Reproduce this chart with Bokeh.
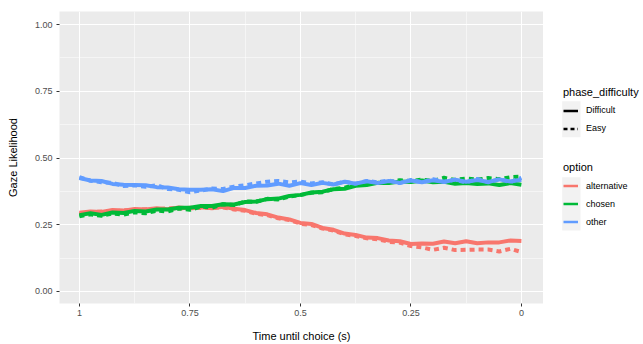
from bokeh.plotting import figure
from bokeh.layouts import row
from bokeh.models import Range1d, FixedTicker, Legend, LegendItem, ColumnDataSource
from bokeh.embed import file_html
from bokeh.resources import INLINE

time_s = [1.0, 0.975, 0.95, 0.925, 0.9, 0.875, 0.85, 0.825, 0.8, 0.775, 0.75, 0.725, 0.7, 0.675,
          0.65, 0.625, 0.6, 0.575, 0.55, 0.525, 0.5, 0.475, 0.45, 0.425, 0.4, 0.375, 0.35, 0.325,
          0.3, 0.275, 0.25, 0.225, 0.2, 0.175, 0.15, 0.125, 0.1, 0.075, 0.05, 0.025, 0.0]

alternative_difficult = [0.295, 0.300, 0.298, 0.305, 0.303, 0.309, 0.307, 0.312, 0.308, 0.315, 0.311,
                         0.316, 0.312, 0.317, 0.310, 0.305, 0.294, 0.289, 0.277, 0.270, 0.257, 0.253,
                         0.238, 0.231, 0.217, 0.212, 0.202, 0.200, 0.191, 0.188, 0.178, 0.180, 0.179,
                         0.187, 0.181, 0.188, 0.181, 0.184, 0.184, 0.191, 0.189]
alternative_easy = [0.290, 0.297, 0.300, 0.300, 0.304, 0.305, 0.308, 0.308, 0.312, 0.311, 0.314,
                    0.313, 0.315, 0.315, 0.307, 0.302, 0.291, 0.286, 0.274, 0.268, 0.254, 0.249,
                    0.236, 0.228, 0.214, 0.208, 0.199, 0.196, 0.186, 0.183, 0.170, 0.165, 0.156,
                    0.164, 0.155, 0.156, 0.157, 0.157, 0.150, 0.160, 0.148]
chosen_difficult = [0.286, 0.293, 0.287, 0.296, 0.294, 0.302, 0.300, 0.307, 0.307, 0.314, 0.314,
                    0.320, 0.320, 0.327, 0.326, 0.335, 0.337, 0.346, 0.348, 0.358, 0.362, 0.371,
                    0.374, 0.383, 0.385, 0.396, 0.399, 0.407, 0.406, 0.412, 0.410, 0.416, 0.409,
                    0.411, 0.404, 0.406, 0.403, 0.405, 0.399, 0.406, 0.400]
chosen_easy = [0.282, 0.289, 0.284, 0.292, 0.288, 0.297, 0.293, 0.303, 0.300, 0.311, 0.306,
               0.318, 0.314, 0.327, 0.324, 0.337, 0.336, 0.347, 0.345, 0.356, 0.361, 0.370,
               0.372, 0.384, 0.389, 0.399, 0.405, 0.410, 0.409, 0.417, 0.413, 0.419, 0.414,
               0.426, 0.418, 0.423, 0.419, 0.425, 0.421, 0.428, 0.430]
other_difficult = [0.425, 0.416, 0.414, 0.403, 0.400, 0.399, 0.398, 0.391, 0.390, 0.383, 0.381,
                   0.381, 0.383, 0.376, 0.388, 0.388, 0.396, 0.397, 0.404, 0.396, 0.406, 0.399,
                   0.407, 0.401, 0.411, 0.404, 0.413, 0.406, 0.414, 0.407, 0.416, 0.409, 0.417,
                   0.410, 0.419, 0.411, 0.418, 0.410, 0.420, 0.412, 0.419]
other_easy = [0.428, 0.415, 0.409, 0.407, 0.395, 0.398, 0.392, 0.398, 0.384, 0.381, 0.372,
              0.378, 0.386, 0.384, 0.393, 0.398, 0.405, 0.411, 0.414, 0.409, 0.412, 0.405,
              0.409, 0.401, 0.412, 0.404, 0.414, 0.409, 0.416, 0.406, 0.418, 0.409, 0.421,
              0.411, 0.419, 0.408, 0.422, 0.409, 0.421, 0.410, 0.426]

options = ["alternative", "chosen", "other"]
option_colors = ["#F8766D", "#00BA38", "#619CFF"]
difficulties = ["Difficult", "Easy"]
difficulty_dash = ["solid", "5 4"]
series = {
    ("alternative", "Difficult"): alternative_difficult,
    ("alternative", "Easy"): alternative_easy,
    ("chosen", "Difficult"): chosen_difficult,
    ("chosen", "Easy"): chosen_easy,
    ("other", "Difficult"): other_difficult,
    ("other", "Easy"): other_easy,
}

y_ticks = [0.0, 0.25, 0.5, 0.75, 1.0]
y_tick_labels = ["0.00", "0.25", "0.50", "0.75", "1.00"]
x_ticks = [0.0, 0.25, 0.5, 0.75, 1.0]
x_tick_labels = ["0", "0.25", "0.5", "0.75", "1"]

FONT = "Liberation Sans"
H = 344
TOP, BOTTOM = 11, 41

p = figure(width=543, height=H, output_backend="svg", toolbar_location=None,
           x_range=Range1d(1.045, -0.05), y_range=Range1d(-0.045, 1.049),
           min_border_left=59, min_border_right=0, min_border_top=TOP, min_border_bottom=BOTTOM)
p.background_fill_color = "#EBEBEB"
p.border_fill_color = "white"
p.outline_line_color = None

p.xaxis.ticker = FixedTicker(ticks=x_ticks, minor_ticks=[0.125, 0.375, 0.625, 0.875])
p.yaxis.ticker = FixedTicker(ticks=y_ticks, minor_ticks=[0.125, 0.375, 0.625, 0.875])
p.xaxis.major_label_overrides = dict(zip(x_ticks, x_tick_labels))
p.yaxis.major_label_overrides = dict(zip(y_ticks, y_tick_labels))

for ax in (p.xaxis, p.yaxis):
    ax.axis_line_color = None
    ax.major_tick_line_color = "#333333"
    ax.major_tick_in = 0
    ax.major_tick_out = 3
    ax.minor_tick_line_color = None
    ax.major_label_text_color = "#4D4D4D"
    ax.major_label_text_font = FONT
    ax.major_label_text_font_size = "9px"
    ax.axis_label_text_font = FONT
    ax.axis_label_text_font_size = "11px"
    ax.axis_label_text_font_style = "normal"
    ax.axis_label_text_color = "black"

p.xaxis.major_label_standoff = 2
p.yaxis.major_label_standoff = 3
p.xaxis.axis_label = "Time until choice (s)"
p.yaxis.axis_label = "Gaze Likelihood"
p.xaxis.axis_label_standoff = 11
p.yaxis.axis_label_standoff = 13

p.xgrid.grid_line_color = "white"
p.ygrid.grid_line_color = "white"
p.xgrid.grid_line_width = 1.1
p.ygrid.grid_line_width = 1.1
p.xgrid.minor_grid_line_color = "white"
p.ygrid.minor_grid_line_color = "white"
p.xgrid.minor_grid_line_width = 0.5
p.ygrid.minor_grid_line_width = 0.5

for opt, col in zip(options, option_colors):
    for diff, dash in zip(difficulties, difficulty_dash):
        src = ColumnDataSource(dict(t=time_s, y=series[(opt, diff)]))
        p.line("t", "y", source=src, line_color=col, line_width=4, line_dash=dash)

# ---- legend panel (its frame lines up with the main frame: page y 11..303) ----
W_LEG = 100
lf = figure(width=W_LEG, height=H, output_backend="svg", toolbar_location=None,
            x_axis_location=None, y_axis_location=None,
            x_range=Range1d(0, W_LEG), y_range=Range1d(H - BOTTOM, TOP),
            min_border_left=0, min_border_right=0, min_border_top=TOP, min_border_bottom=BOTTOM)
lf.grid.visible = False
lf.outline_line_color = None
lf.background_fill_color = "white"
lf.border_fill_color = "white"

# grey key backgrounds (ggplot legend.key)
lf.quad(left=[18.7, 18.7], right=[37, 37], top=[100.7, 176.7], bottom=[136.7, 230],
        fill_color="#F2F2F2", line_color=None)

dummy = ColumnDataSource(dict(x=[float("nan")], y=[float("nan")]))
diff_r = [lf.line("x", "y", source=dummy, line_color="black", line_width=2.5, line_dash=d)
          for d in ["solid", "4 3"]]
opt_r = [lf.line("x", "y", source=dummy, line_color=c, line_width=2.5) for c in option_colors]

def style_legend(lg):
    lg.title_text_font = FONT
    lg.title_text_font_size = "11px"
    lg.title_text_font_style = "normal"
    lg.title_text_color = "black"
    lg.title_standoff = 4
    lg.label_text_font = FONT
    lg.label_text_font_size = "9px"
    lg.label_text_color = "black"
    lg.glyph_width = 15
    lg.glyph_height = 17
    lg.label_height = 17
    lg.label_standoff = 8
    lg.spacing = 1
    lg.padding = 0
    lg.margin = 0
    lg.border_line_color = None
    lg.background_fill_alpha = 0

frame_bottom = H - BOTTOM
lg1 = Legend(items=[LegendItem(label=d, renderers=[r]) for d, r in zip(difficulties, diff_r)],
             title="phase_difficulty", location=(20, frame_bottom - 136.7))
lg2 = Legend(items=[LegendItem(label=o, renderers=[r]) for o, r in zip(options, opt_r)],
             title="option", location=(20, frame_bottom - 230))
style_legend(lg1)
style_legend(lg2)
lf.add_layout(lg1, "center")
lf.add_layout(lg2, "center")

layout = row(p, lf)
open("out.html", "w").write(file_html(layout, INLINE))
